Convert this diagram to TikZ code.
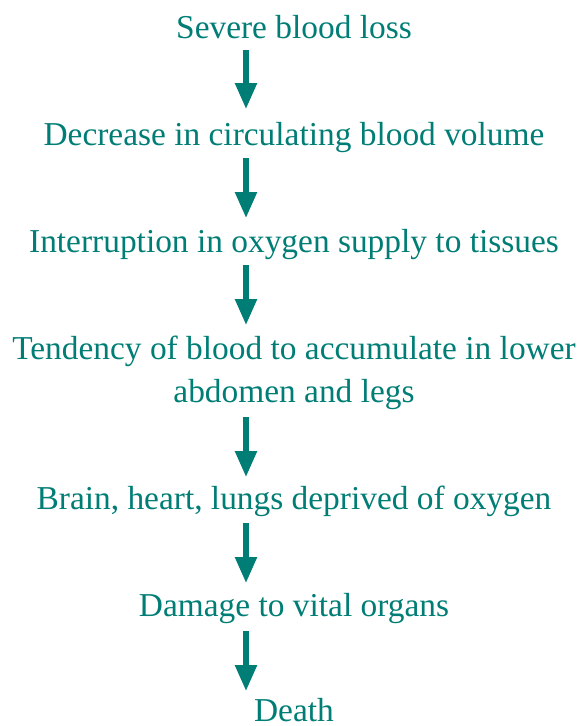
\documentclass[tikz,border=0pt]{standalone}
\usepackage{fontspec}
\setmainfont{Liberation Serif}
\usetikzlibrary{arrows.meta}
\definecolor{teal}{RGB}{0,125,117}
\begin{document}
\begin{tikzpicture}[x=1pt,y=-1pt,
  lbl/.style={anchor=base,text=teal,inner sep=0pt,align=center,
    font=\fontsize{33.4}{43}\selectfont},
  arr/.style={draw=teal,line width=5.5pt,
    -{Triangle[width=21pt,length=26pt]}}]
\useasboundingbox (0,0) rectangle (581,726);
\node[lbl] (t1) at (294,38) {Severe blood loss};
\node[lbl] (t2) at (294,145) {Decrease in circulating blood volume};
\node[lbl] (t3) at (294,252) {Interruption in oxygen supply to tissues};
\node[lbl] (t4) at (294,402) {Tendency of blood to accumulate in lower\\abdomen and legs};
\node[lbl] (t5) at (294,509) {Brain, heart, lungs deprived of oxygen};
\node[lbl] (t6) at (294,616) {Damage to vital organs};
\node[lbl] (t7) at (294,721) {Death};
\coordinate (a1s) at (246,50);  \coordinate (a1e) at (246,109);
\coordinate (a2s) at (246,158); \coordinate (a2e) at (246,218);
\coordinate (a3s) at (246,265); \coordinate (a3e) at (246,325);
\coordinate (a4s) at (246,417); \coordinate (a4e) at (246,477);
\coordinate (a5s) at (246,523); \coordinate (a5e) at (246,583);
\coordinate (a6s) at (246,631); \coordinate (a6e) at (246,691);
\draw[arr] (a1s) -- (a1e);
\draw[arr] (a2s) -- (a2e);
\draw[arr] (a3s) -- (a3e);
\draw[arr] (a4s) -- (a4e);
\draw[arr] (a5s) -- (a5e);
\draw[arr] (a6s) -- (a6e);
\end{tikzpicture}
\end{document}
